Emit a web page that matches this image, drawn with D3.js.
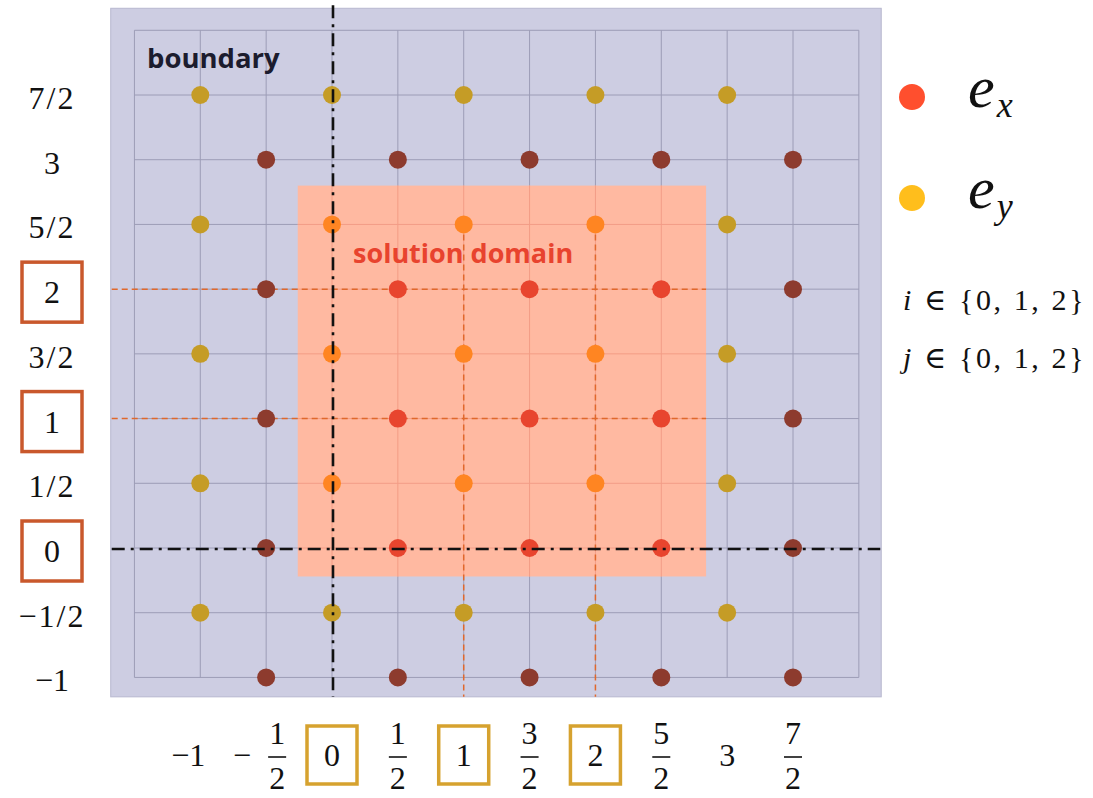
<!DOCTYPE html>
<html>
<head>
<meta charset="utf-8">
<script src="https://cdn.jsdelivr.net/npm/d3@7"></script>
<style>
  body { margin: 0; background: #fff; }
</style>
</head>
<body>
<div id="chart"></div>
<script>
// staggered grid: e_x and e_y unknowns
var xTicks = [-1, -0.5, 0, 0.5, 1, 1.5, 2, 2.5, 3, 3.5];
var xTickLabels = ["−1", "−1/2", "0", "1/2", "1", "3/2", "2", "5/2", "3", "7/2"];
var yTicks = [3.5, 3, 2.5, 2, 1.5, 1, 0.5, 0, -0.5, -1];
var yTickLabels = ["7/2", "3", "5/2", "2", "3/2", "1", "1/2", "0", "−1/2", "−1"];
var boxedTicks = [0, 1, 2];

var gridX = [-1.5, -1, -0.5, 0, 0.5, 1, 1.5, 2, 2.5, 3, 3.5, 4];
var gridY = [-1, -0.5, 0, 0.5, 1, 1.5, 2, 2.5, 3, 3.5, 4];

var exX = [-0.5, 0.5, 1.5, 2.5, 3.5];
var exY = [-1, 0, 1, 2, 3];
var eyX = [-1, 0, 1, 2, 3];
var eyY = [-0.5, 0.5, 1.5, 2.5, 3.5];

var domainX = [-0.26, 2.84];
var domainY = [-0.22, 2.8];
var panelX = [-1.68, 4.17];
var panelY = [-1.15, 4.17];

var serif = "'Liberation Serif', 'DejaVu Serif', serif";
var sans = "'Open Sans', 'Noto Sans', sans-serif";

var svg = d3.select('#chart')
    .append('svg')
    .attr('width', 1093)
    .attr('height', 798);

var x = d3.scaleLinear().domain([0, 3.5]).range([332, 793]);
var y = d3.scaleLinear().domain([0, 3.5]).range([548, 95]);

var defs = svg.append('defs');
defs.append('clipPath').attr('id', 'dom')
    .append('rect')
    .attr('x', x(domainX[0])).attr('y', y(domainY[1]))
    .attr('width', x(domainX[1]) - x(domainX[0]))
    .attr('height', y(domainY[0]) - y(domainY[1]));
defs.append('filter').attr('id', 'soft')
    .append('feGaussianBlur').attr('stdDeviation', 0.6);

// boundary panel
svg.append('rect')
    .attr('x', x(panelX[0])).attr('y', y(panelY[1]))
    .attr('width', x(panelX[1]) - x(panelX[0]))
    .attr('height', y(panelY[0]) - y(panelY[1]))
    .attr('fill', '#cdcde2')
    .attr('stroke', '#b8b8cf');

function drawGrid(g, color) {
    g.selectAll('.gx').data(gridX).enter().append('line')
        .attr('x1', function(d){ return x(d); }).attr('x2', function(d){ return x(d); })
        .attr('y1', y(4)).attr('y2', y(-1))
        .attr('stroke', color).attr('stroke-width', 1);
    g.selectAll('.gy').data(gridY).enter().append('line')
        .attr('y1', function(d){ return y(d); }).attr('y2', function(d){ return y(d); })
        .attr('x1', x(-1.5)).attr('x2', x(4))
        .attr('stroke', color).attr('stroke-width', 1);
}

drawGrid(svg.append('g'), '#9c9cb6');

// solution domain
svg.append('rect')
    .attr('x', x(domainX[0])).attr('y', y(domainY[1]))
    .attr('width', x(domainX[1]) - x(domainX[0]))
    .attr('height', y(domainY[0]) - y(domainY[1]))
    .attr('fill', '#ffb9a1');

drawGrid(svg.append('g').attr('clip-path', 'url(#dom)'), '#f39c86');

// index lines i, j = 1, 2
var idx = boxedTicks.filter(function(d){ return d > 0; });
svg.selectAll('.hj').data(idx).enter().append('line')
    .attr('x1', x(panelX[0]) + 1).attr('x2', x(domainX[1]))
    .attr('y1', function(d){ return y(d); }).attr('y2', function(d){ return y(d); })
    .attr('stroke', '#e0682c').attr('stroke-width', 1.5)
    .attr('stroke-dasharray', '6,4');
svg.selectAll('.vi').data(idx).enter().append('line')
    .attr('x1', function(d){ return x(d); }).attr('x2', function(d){ return x(d); })
    .attr('y1', y(2.5)).attr('y2', y(panelY[0]))
    .attr('stroke', '#e0682c').attr('stroke-width', 1.5)
    .attr('stroke-dasharray', '6,4');

function inside(px, py) {
    return px >= domainX[0] && px <= domainX[1] && py >= domainY[0] && py <= domainY[1];
}

var exPts = d3.cross(exX, exY);
var eyPts = d3.cross(eyX, eyY);

svg.selectAll('.ey').data(eyPts).enter().append('circle')
    .attr('cx', function(d){ return x(d[0]); })
    .attr('cy', function(d){ return y(d[1]); })
    .attr('r', 9)
    .attr('filter', 'url(#soft)')
    .attr('fill', function(d){ return inside(d[0], d[1]) ? '#ff8524' : '#c59c27'; });

svg.selectAll('.ex').data(exPts).enter().append('circle')
    .attr('cx', function(d){ return x(d[0]); })
    .attr('cy', function(d){ return y(d[1]); })
    .attr('r', 9)
    .attr('filter', 'url(#soft)')
    .attr('fill', function(d){ return inside(d[0], d[1]) ? '#e8452f' : '#8d3a2d'; });

// axes i = 0, j = 0
svg.append('line')
    .attr('x1', x(0) + 1).attr('x2', x(0) + 1)
    .attr('y1', y(panelY[1]) - 3).attr('y2', y(panelY[0]))
    .attr('stroke', '#111').attr('stroke-width', 2.6)
    .attr('stroke-dasharray', '13,6,3,6');
svg.append('line')
    .attr('x1', x(panelX[0]) + 1).attr('x2', x(panelX[1]) - 1)
    .attr('y1', y(0) + 1).attr('y2', y(0) + 1)
    .attr('stroke', '#111').attr('stroke-width', 2.6)
    .attr('stroke-dasharray', '13,6,3,6');

// region labels
svg.append('text')
    .attr('x', 147).attr('y', 68)
    .attr('font-family', sans).attr('font-weight', 700).attr('font-size', 27.5)
    .attr('fill', '#1c1c2e')
    .text('boundary');
svg.append('text')
    .attr('x', 353).attr('y', 263)
    .attr('font-family', sans).attr('font-weight', 700).attr('font-size', 27)
    .attr('fill', '#e8432e')
    .text('solution domain');

// y tick labels
var yl = svg.append('g');
yTicks.forEach(function(v, i) {
    if (boxedTicks.indexOf(v) >= 0) {
        yl.append('rect')
            .attr('x', 22).attr('y', y(v) + 3 - 30)
            .attr('width', 60).attr('height', 60)
            .attr('fill', 'none').attr('stroke', '#c9582c').attr('stroke-width', 3.5);
    }
    yl.append('text')
        .attr('x', 52).attr('y', y(v) + 14)
        .attr('text-anchor', 'middle')
        .attr('font-family', serif).attr('font-size', 32)
        .attr('letter-spacing', yTickLabels[i].indexOf('/') >= 0 ? 2 : 0)
        .attr('fill', '#111')
        .text(yTickLabels[i]);
});

// x tick labels (stacked fractions)
var xl = svg.append('g')
    .attr('font-family', serif).attr('font-size', 32).attr('fill', '#111');
xTicks.forEach(function(v, i) {
    var lab = xTickLabels[i];
    var cx = x(v);
    if (boxedTicks.indexOf(v) >= 0) {
        xl.append('rect')
            .attr('x', cx - 25).attr('y', 726)
            .attr('width', 50).attr('height', 58)
            .attr('fill', 'none').attr('stroke', '#d6a22f').attr('stroke-width', 3.5);
    }
    if (lab.indexOf('/') < 0) {
        xl.append('text')
            .attr('x', v < 0 ? cx - 12 : cx).attr('y', 766)
            .attr('text-anchor', 'middle')
            .text(lab);
        return;
    }
    var neg = lab.charAt(0) === '−';
    var parts = lab.replace('−', '').split('/');
    if (neg) {
        xl.append('text')
            .attr('x', cx - 24).attr('y', 766)
            .attr('text-anchor', 'middle')
            .text('−');
        cx = cx + 11;
    }
    xl.append('text').attr('x', cx).attr('y', 744)
        .attr('text-anchor', 'middle').text(parts[0]);
    xl.append('line')
        .attr('x1', cx - 9).attr('x2', cx + 9)
        .attr('y1', 757).attr('y2', 757)
        .attr('stroke', '#111').attr('stroke-width', 1.6);
    xl.append('text').attr('x', cx).attr('y', 789)
        .attr('text-anchor', 'middle').text(parts[1]);
});

// legend
var legendItems = [
    {sub: 'x', color: '#ff4f2e', cy: 97},
    {sub: 'y', color: '#ffbe1f', cy: 198}
];
var lg = svg.append('g');
legendItems.forEach(function(d) {
    lg.append('circle')
        .attr('cx', 912).attr('cy', d.cy).attr('r', 13)
        .attr('filter', 'url(#soft)')
        .attr('fill', d.color);
    var t = lg.append('text')
        .attr('x', 968).attr('y', d.cy + 10)
        .attr('font-family', serif).attr('font-style', 'italic')
        .attr('font-size', 60).attr('fill', '#111');
    t.append('tspan').text('e');
    t.append('tspan').attr('font-size', 36).attr('dy', 10).attr('dx', 2).text(d.sub);
});

var sets = [['i', 310], ['j', 368]];
sets.forEach(function(s) {
    var t = svg.append('text')
        .attr('x', 903).attr('y', s[1])
        .attr('font-family', serif).attr('font-size', 30).attr('fill', '#111')
        .attr('letter-spacing', 2.6);
    t.append('tspan').attr('font-style', 'italic').text(s[0]);
    t.append('tspan').text(' ∈ {0, 1, 2}');
});
</script>
</body>
</html>
